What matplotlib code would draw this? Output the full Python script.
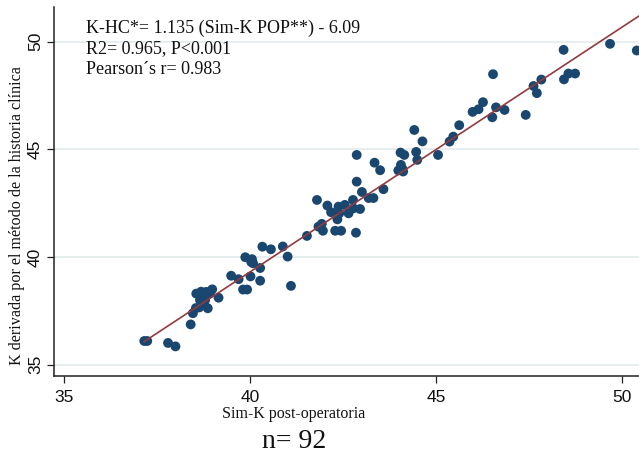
import matplotlib
matplotlib.use("Agg")
import matplotlib.pyplot as plt
import numpy as np

# Sim-K post-operatoria (x) vs K derivada por el metodo de la historia clinica (y)
sim_k = [37.15, 37.23, 37.79, 37.99, 38.40, 38.46, 38.54, 38.63, 38.68, 38.72,
         38.79, 38.86, 38.92, 38.98, 39.15, 38.65, 38.82, 38.76, 38.55, 39.49,
         39.69, 39.81, 39.92, 39.87, 40.05, 40.08, 40.01, 40.27, 40.27, 40.33,
         40.56, 40.88, 41.01, 41.10, 41.53, 41.80, 41.84, 41.93, 41.96, 42.08,
         42.29, 42.45, 42.38, 42.40, 42.35, 42.65, 42.77, 42.85, 42.87, 42.87,
         42.78, 42.96, 43.01, 43.19, 43.32, 43.35, 43.50, 43.59, 43.99, 44.12,
         44.06, 44.05, 44.15, 44.42, 44.47, 44.50, 44.64, 45.06, 45.37, 45.47,
         45.63, 45.99, 46.15, 46.27, 46.52, 46.54, 46.62, 46.85, 47.42, 47.63,
         47.72, 47.84, 48.44, 48.45, 48.57, 48.75, 49.69, 50.41, 42.55, 42.18,
         40.03, 44.10]
k_hc = [36.10, 36.10, 36.01, 35.85, 36.87, 37.39, 37.63, 37.66, 38.39, 38.16,
        38.01, 37.62, 38.32, 38.50, 38.11, 38.00, 38.38, 37.82, 38.30, 39.13,
        38.97, 38.49, 38.49, 39.99, 39.90, 39.71, 39.10, 39.49, 38.90, 40.48,
        40.36, 40.49, 40.02, 38.66, 40.98, 42.65, 41.41, 41.54, 41.22, 42.39,
        41.22, 41.22, 42.34, 42.03, 41.75, 42.03, 42.65, 41.13, 43.50, 44.74,
        42.26, 42.23, 43.02, 42.74, 42.74, 44.38, 44.03, 43.15, 44.02, 43.97,
        44.28, 44.85, 44.74, 45.90, 44.88, 44.51, 45.37, 44.74, 45.36, 45.59,
        46.12, 46.74, 46.86, 47.19, 46.49, 48.49, 46.95, 46.83, 46.60, 47.94,
        47.61, 48.24, 49.62, 48.25, 48.52, 48.52, 49.90, 49.59, 42.42, 42.08,
        39.77, 44.10]

slope = 1.135
intercept = -6.09
notes = ["K-HC*= 1.135 (Sim-K POP**) - 6.09",
         "R2= 0.965, P<0.001",
         "Pearson\u00b4s r= 0.983"]

serif = "Liberation Serif"
sans = "Liberation Sans"

fig = plt.figure(figsize=(6.39, 4.59), dpi=100)
ax = fig.add_axes([54 / 639, 83 / 459, 585 / 639, 369 / 459])

ax.set_xlim(34.72, 50.47)
ax.set_ylim(34.475, 51.61)

for yv in [35, 40, 45, 50]:
    ax.axhline(yv, color="#e6eef0", lw=1.4, zorder=0)

ax.scatter(sim_k, k_hc, s=50, color="#1a476f", edgecolors="none", zorder=3)

xl = np.array([min(sim_k), 50.6])
ax.plot(xl, slope * xl + intercept, color="#943a3e", lw=1.2, zorder=4)

ax.spines["top"].set_visible(False)
ax.spines["right"].set_visible(False)
for s in ["left", "bottom"]:
    ax.spines[s].set_color("#222222")
    ax.spines[s].set_linewidth(1.1)

ax.set_xticks([35, 40, 45, 50])
ax.set_yticks([35, 40, 45, 50])
ax.tick_params(axis="x", length=5, width=0.9, color="#222222", pad=5,
               labelsize=12.5, labelcolor="#111111")
ax.tick_params(axis="y", length=5, width=0.9, color="#222222", pad=3,
               labelsize=12.5, labelcolor="#111111", labelrotation=90)
for lab in ax.get_xticklabels() + ax.get_yticklabels():
    lab.set_family(sans)
for lab in ax.get_yticklabels():
    lab.set_va("center")

fig.text(294 / 639, 1 - 414 / 459, "Sim-K post-operatoria", family=serif,
         fontsize=11.5, ha="center", va="center", color="#111111")
fig.text(17 / 639, 1 - 216 / 459,
         "K derivada por el m\u00e9todo de la historia cl\u00ednica",
         family=serif, fontsize=11.6, rotation=90, ha="center", va="center",
         color="#111111")
fig.text(294 / 639, 1 - 442 / 459, "n= 92", family=serif, fontsize=20,
         ha="center", va="center", color="#111111")

for i, line in enumerate(notes):
    fig.text(86 / 639, 1 - (28 + 21 * i) / 459, line, family=serif,
             fontsize=13, ha="left", va="center", color="#111111")

fig.savefig("out.png", dpi=100)
